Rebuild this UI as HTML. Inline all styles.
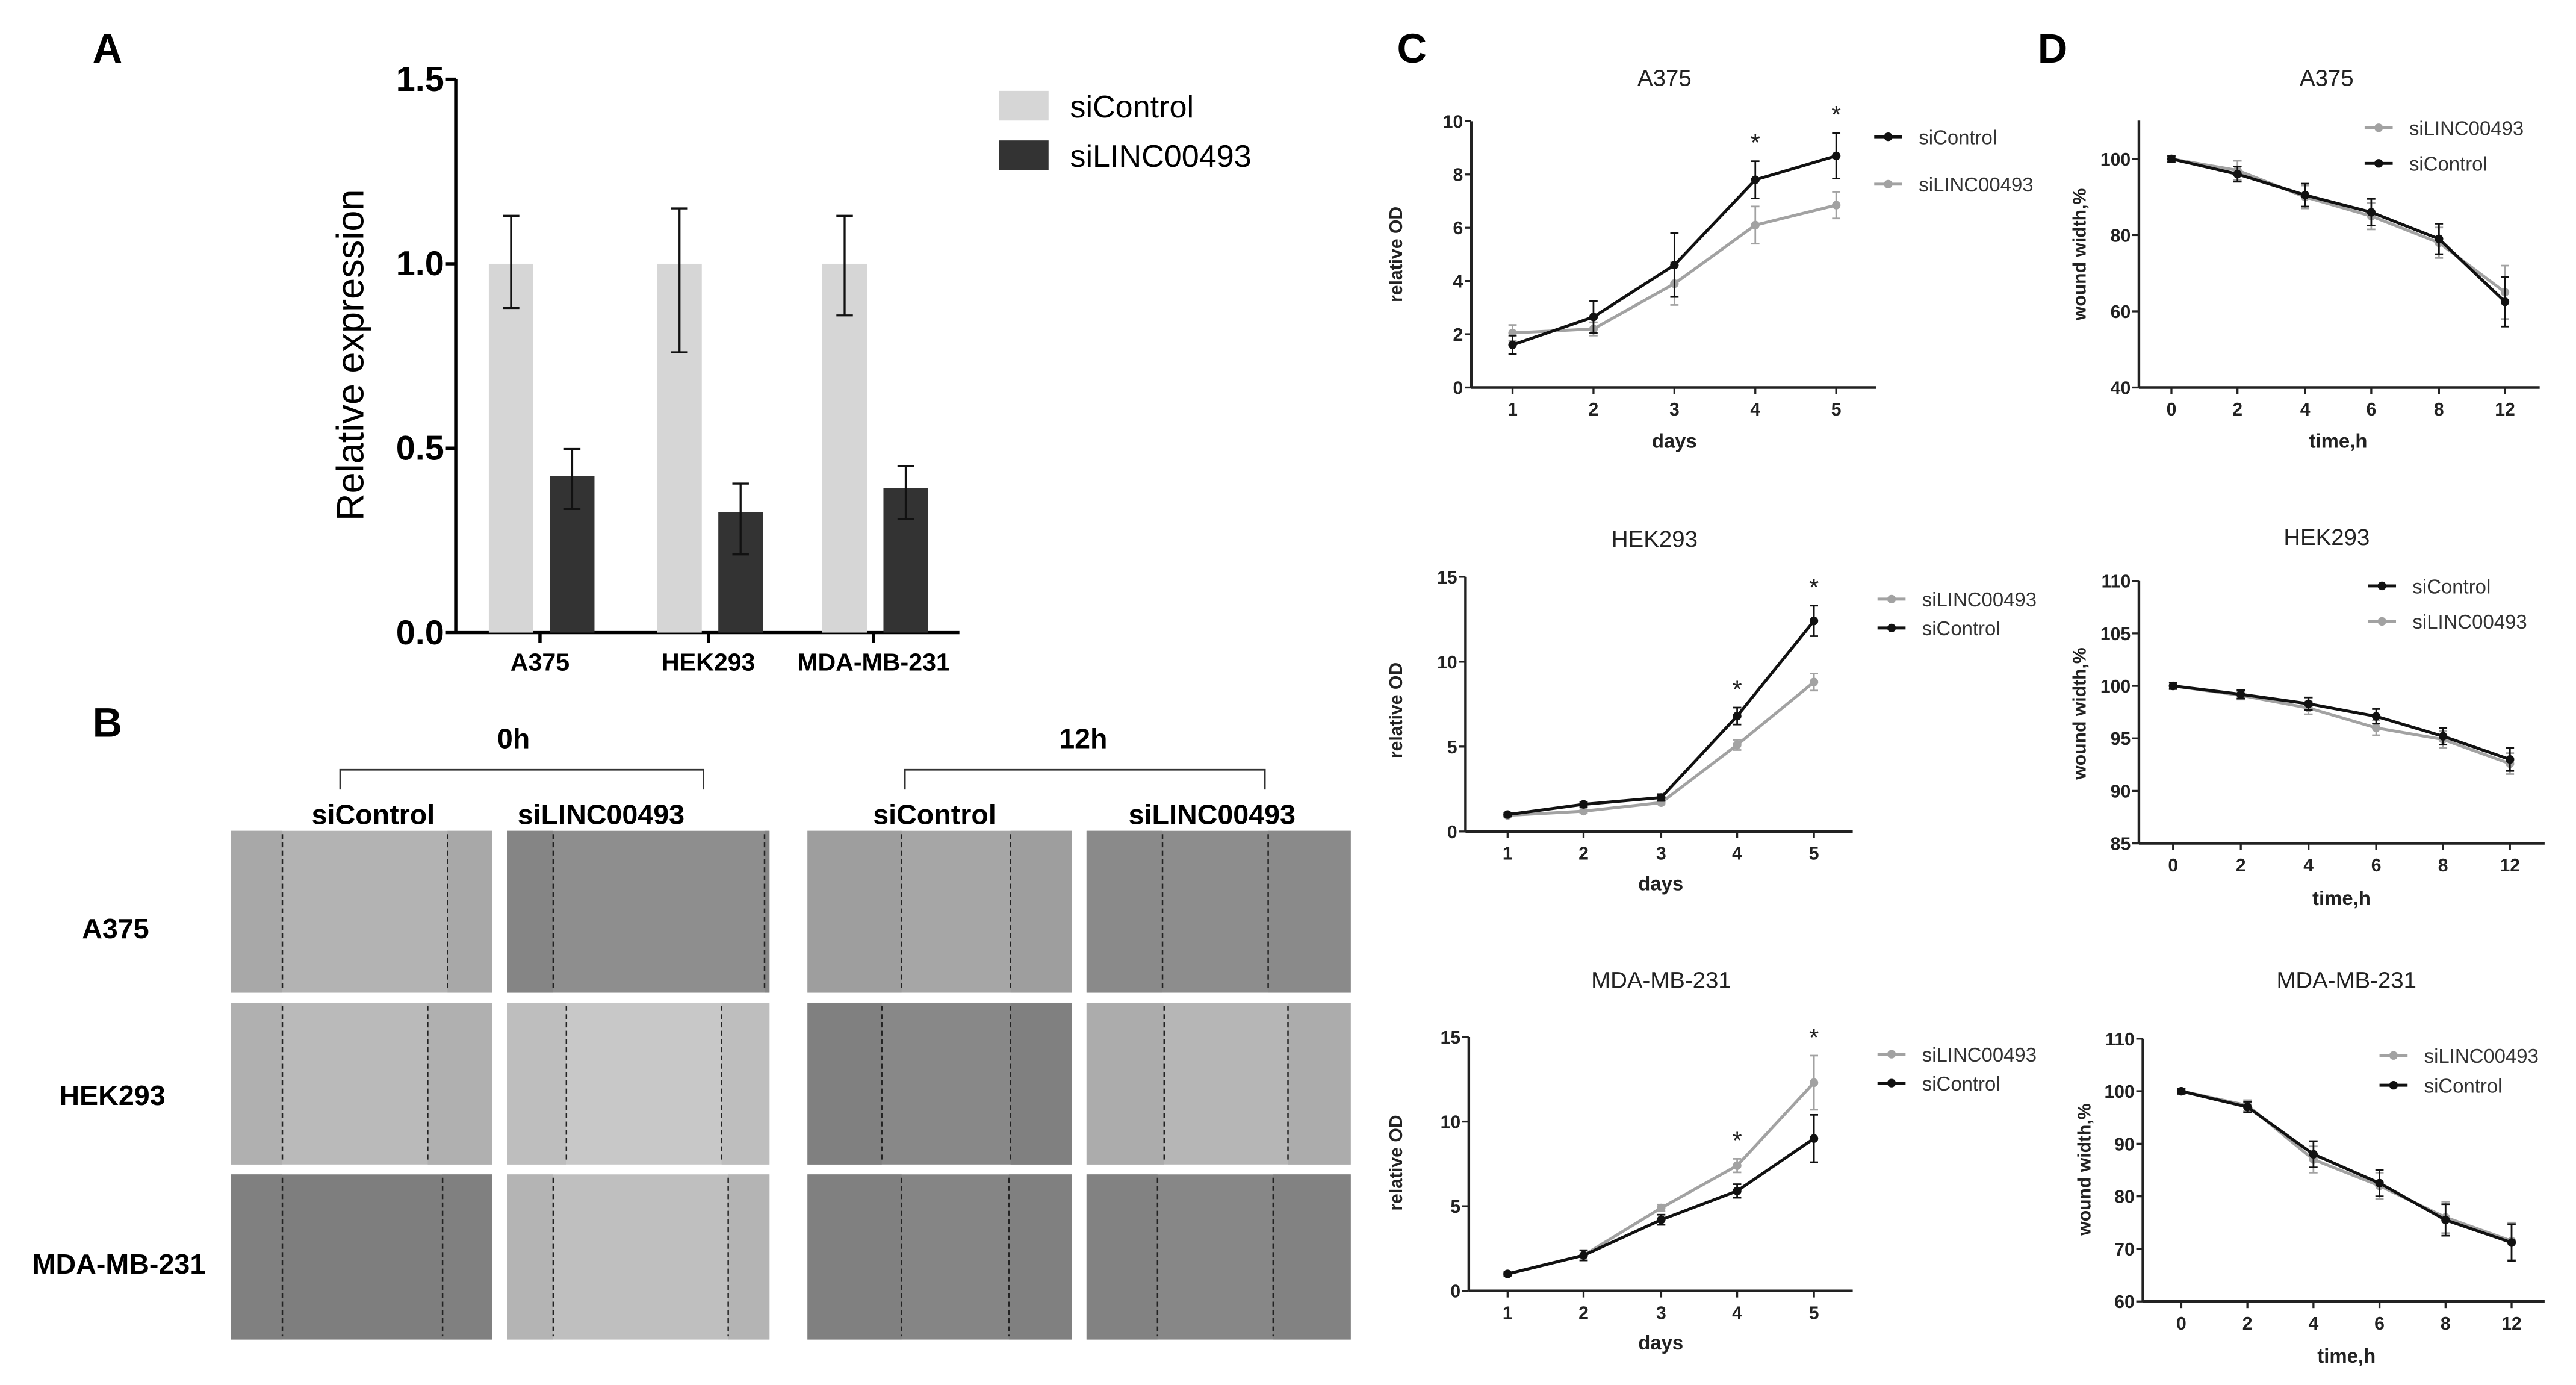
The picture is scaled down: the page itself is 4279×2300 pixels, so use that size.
<!DOCTYPE html>
<html><head><meta charset="utf-8"><style>
html,body{margin:0;padding:0;background:#fff;}
svg{display:block;}
text{font-family:"Liberation Sans",sans-serif;}
.n{font-family:"Liberation Sans Narrow","Liberation Sans",sans-serif;}
</style></head><body>
<svg id="fig" width="4279" height="2300" viewBox="0 0 1560 838.5" preserveAspectRatio="none" xmlns="http://www.w3.org/2000/svg">
<rect x="0" y="0" width="1560" height="838.5" fill="#fff"/>
<g id="panelA"></g>
<g id="panelB"></g>
<g id="panelC"></g>
<g id="panelD"></g>
</svg>
<script>
// ---- Panel A data ----
const aCategories = ["A375","HEK293","MDA-MB-231"];
const aControl = [1.0, 1.0, 1.0];
const aControlErrHi = [1.13, 1.15, 1.13];
const aControlErrLo = [0.88, 0.76, 0.86];
const aLinc = [0.424, 0.326, 0.392];
const aLincErrHi = [0.498, 0.404, 0.452];
const aLincErrLo = [0.335, 0.212, 0.308];
const aTicks = ["0.0","0.5","1.0","1.5"];
// ---- Panel C data (relative OD by day) ----
const cDays = ["1","2","3","4","5"];
const cA375Ctrl = [1.6, 2.65, 4.6, 7.8, 8.7];
const cA375CtrlErr = [0.35, 0.6, 1.2, 0.7, 0.85];
const cA375Linc = [2.05, 2.2, 3.9, 6.1, 6.85];
const cA375LincErr = [0.3, 0.25, 0.8, 0.7, 0.5];
const cHEKCtrl = [1.0, 1.6, 2.0, 6.8, 12.4];
const cHEKCtrlErr = [0.1, 0.15, 0.2, 0.5, 0.9];
const cHEKLinc = [0.95, 1.2, 1.7, 5.1, 8.8];
const cHEKLincErr = [0.1, 0.1, 0.1, 0.3, 0.5];
const cMDACtrl = [1.0, 2.1, 4.2, 5.9, 9.0];
const cMDACtrlErr = [0.1, 0.3, 0.3, 0.4, 1.4];
const cMDALinc = [1.0, 2.1, 4.9, 7.4, 12.3];
const cMDALincErr = [0.1, 0.3, 0.2, 0.4, 1.6];
// ---- Panel D data (wound width %) ----
const dTimes = ["0","2","4","6","8","12"];
const dA375Ctrl = [100, 96, 90.5, 86, 79, 62.5];
const dA375CtrlErr = [0.8, 2.0, 3.0, 3.5, 4.0, 6.5];
const dA375Linc = [100, 97, 90, 85, 78, 65];
const dA375LincErr = [0.8, 2.5, 3.0, 3.5, 4.0, 7.0];
const dHEKCtrl = [100, 99.2, 98.3, 97.1, 95.2, 93.0];
const dHEKCtrlErr = [0.3, 0.4, 0.6, 0.7, 0.8, 1.1];
const dHEKLinc = [100, 99.1, 97.9, 96.0, 94.9, 92.6];
const dHEKLincErr = [0.3, 0.4, 0.6, 0.7, 0.8, 1.0];
const dMDACtrl = [100, 97, 88, 82.5, 75.5, 71.2];
const dMDACtrlErr = [0.5, 1.0, 2.5, 2.5, 3.0, 3.5];
const dMDALinc = [100, 97.3, 87, 82, 76, 71.5];
const dMDALincErr = [0.5, 1.0, 2.5, 2.5, 3.0, 3.5];

const NS="http://www.w3.org/2000/svg";
function el(parent, tag, attrs, txt){
  const e=document.createElementNS(NS,tag);
  for(const k in attrs) e.setAttribute(k, attrs[k]);
  if(txt!==undefined) e.textContent=txt;
  parent.appendChild(e); return e;
}

// ================= Panel A =================
(function(){
  const g=document.getElementById('panelA');
  const x0=276, yBase=383, yTop=48, ymax=1.5;
  const y=v=>yBase-(v/ymax)*(yBase-yTop);
  const catX=[327,429,529];
  let t=el(g,'text',{x:56,y:38,'font-size':25,'font-weight':'bold'},'A');
   
  let ax=el(g,'line',{x1:x0,y1:yTop,x2:x0,y2:yBase,stroke:'#000','stroke-width':2});
   
  let xa=el(g,'line',{x1:x0,y1:yBase,x2:581,y2:yBase,stroke:'#000','stroke-width':2});
   
  aTicks.forEach((lab,i)=>{
    const v=parseFloat(lab);
    el(g,'line',{x1:x0-6,y1:y(v),x2:x0,y2:y(v),stroke:'#000','stroke-width':2});
    const tt=el(g,'text',{x:x0-7,y:y(v)+7,'font-size':21,'font-weight':'bold','text-anchor':'end',class:'n'},lab);
     
  });
  const yt=el(g,'text',{x:0,y:0,'font-size':23,'text-anchor':'middle',transform:'translate(220,215) rotate(-90)'},'Relative expression');
   
  aCategories.forEach((c,i)=>{
    const cx=catX[i];
    el(g,'line',{x1:cx,y1:yBase,x2:cx,y2:yBase+6,stroke:'#000','stroke-width':2});
    const lt=el(g,'text',{x:cx,y:yBase+23,'font-size':15,'font-weight':'bold','text-anchor':'middle',class:'n'},c);
     
    const b1=el(g,'rect',{x:cx-31,y:y(aControl[i]),width:27,height:yBase-y(aControl[i]),fill:'#d6d6d6'});
     
    const b2=el(g,'rect',{x:cx+6,y:y(aLinc[i]),width:27,height:yBase-y(aLinc[i]),fill:'#333'});
     
    [[cx-17.5,aControlErrHi[i],aControlErrLo[i]],[cx+19.5,aLincErrHi[i],aLincErrLo[i]]].forEach(e=>{
      el(g,'line',{x1:e[0],y1:y(e[1]),x2:e[0],y2:y(e[2]),stroke:'#111','stroke-width':1.2});
      el(g,'line',{x1:e[0]-5,y1:y(e[1]),x2:e[0]+5,y2:y(e[1]),stroke:'#111','stroke-width':1.2});
      el(g,'line',{x1:e[0]-5,y1:y(e[2]),x2:e[0]+5,y2:y(e[2]),stroke:'#111','stroke-width':1.2});
    });
  });
  const l1=el(g,'rect',{x:605,y:55,width:30,height:18,fill:'#d6d6d6'});
   
  const l2=el(g,'rect',{x:605,y:85,width:30,height:18,fill:'#333'});
   
  const lt1=el(g,'text',{x:648,y:71,'font-size':19,class:'n'},'siControl');
   
  const lt2=el(g,'text',{x:648,y:101,'font-size':19,class:'n'},'siLINC00493');
   
})();

// ================= Panel B =================
(function(){
  const g=document.getElementById('panelB');
  const t=el(g,'text',{x:56,y:446,'font-size':25,'font-weight':'bold'},'B');
   
  const hdr=[['0h',311,206,426],['12h',656,548,766]];
  hdr.forEach(h=>{
    const ht=el(g,'text',{x:h[1],y:453,'font-size':17,'font-weight':'bold','text-anchor':'middle'},h[0]);
     
    const br=el(g,'path',{d:`M${h[2]},478 V466 H${h[3]} V478`,fill:'none',stroke:'#333','stroke-width':1});
     
  });
  const colLabels=[['siControl',226],['siLINC00493',364],['siControl',566],['siLINC00493',734]];
  colLabels.forEach(c=>{
    const ct=el(g,'text',{x:c[1],y:499,'font-size':17,'font-weight':'bold','text-anchor':'middle'},c[0]);
     
  });
  const rowLabels=[['A375',70,568],['HEK293',68,669],['MDA-MB-231',72,771]];
  rowLabels.forEach(r=>{
    const rt=el(g,'text',{x:r[1],y:r[2],'font-size':17,'font-weight':'bold','text-anchor':'middle'},r[0]);
     
  });
  const cols=[[140,298],[307,466],[489,649],[658,818]];
  const rows=[[503,601],[607,705],[711,811]];
  const fills=[['#b3b3b3','#8e8e8e','#a6a6a6','#8d8d8d'],['#bababa','#c8c8c8','#888888','#b6b6b6'],['#7e7e7e','#bfbfbf','#858585','#878787']];
  const edgeFills=[['#a8a8a8','#858585','#9e9e9e','#8a8a8a'],['#b0b0b0','#bebebe','#808080','#acacac'],['#808080','#b4b4b4','#808080','#828282']];
  const dashes=[[[171,271],[335,463],[546,612],[704,768]],[[171,259],[343,437],[534,612],[705,780]],[[171,268],[335,441],[546,611],[701,771]]];
  rows.forEach((r,ri)=>cols.forEach((c,ci)=>{
    const im=el(g,'rect',{x:c[0],y:r[0],width:c[1]-c[0],height:r[1]-r[0],fill:fills[ri][ci]});
     
    const d=dashes[ri][ci];
    el(g,'rect',{x:c[0],y:r[0],width:d[0]-c[0],height:r[1]-r[0],fill:edgeFills[ri][ci]});
    el(g,'rect',{x:d[1],y:r[0],width:c[1]-d[1],height:r[1]-r[0],fill:edgeFills[ri][ci]});
    d.forEach(xx=>{
      const dl=el(g,'line',{x1:xx,y1:r[0]+2,x2:xx,y2:r[1]-2,stroke:'#222','stroke-width':0.9,'stroke-dasharray':'3,2'});
       
    });
  }));
})();

// ================= Line charts =================
function lineChart(g, cfg){
  const {axX, axXEnd, y0, yTopPx, vmin, vmax, ticks, tickLabels, xs, cats, series, title, titleX, titleY, ytitle, ytitleX, ytitleY, xtitle, xtitleY, legend, stars, axTopPx} = cfg;
  const y=v=>y0-(v-vmin)/(vmax-vmin)*(y0-yTopPx);
  el(g,'line',{x1:axX,y1:axTopPx!==undefined?axTopPx:yTopPx,x2:axX,y2:y0,stroke:'#222','stroke-width':1.6});
  el(g,'line',{x1:axX,y1:y0,x2:axXEnd,y2:y0,stroke:'#222','stroke-width':1.6});
  const tt=el(g,'text',{x:titleX,y:titleY,'font-size':14,'text-anchor':'middle',class:'n',fill:'#222'},title);
   
  ticks.forEach((v,i)=>{
    el(g,'line',{x1:axX-4,y1:y(v),x2:axX,y2:y(v),stroke:'#222','stroke-width':1.2});
    const lt=el(g,'text',{x:axX-5,y:y(v)+4,'font-size':11,'font-weight':'bold','text-anchor':'end',class:'n',fill:'#222'},tickLabels[i]);
     
  });
  cats.forEach((c,i)=>{
    el(g,'line',{x1:xs[i],y1:y0,x2:xs[i],y2:y0+4,stroke:'#222','stroke-width':1.2});
    const lt=el(g,'text',{x:xs[i],y:y0+17,'font-size':11,'font-weight':'bold','text-anchor':'middle',class:'n',fill:'#222'},c);
     
  });
  const yt=el(g,'text',{x:0,y:0,'font-size':11,'font-weight':'bold','text-anchor':'middle',fill:'#222',transform:`translate(${ytitleX},${ytitleY}) rotate(-90)`},ytitle);
   
  const xt=el(g,'text',{x:(xs[0]+xs[xs.length-1])/2,y:xtitleY,'font-size':12,'font-weight':'bold','text-anchor':'middle',class:'n',fill:'#222'},xtitle);
   
  series.forEach(s=>{
    const pts=s.vals.map((v,i)=>xs[i]+','+y(v)).join(' ');
    const pl=el(g,'polyline',{points:pts,fill:'none',stroke:s.color,'stroke-width':1.8});
     
    s.vals.forEach((v,i)=>{
      const e=s.err[i];
      el(g,'line',{x1:xs[i],y1:y(v+e),x2:xs[i],y2:y(v-e),stroke:s.color,'stroke-width':1});
      el(g,'line',{x1:xs[i]-2.5,y1:y(v+e),x2:xs[i]+2.5,y2:y(v+e),stroke:s.color,'stroke-width':1});
      el(g,'line',{x1:xs[i]-2.5,y1:y(v-e),x2:xs[i]+2.5,y2:y(v-e),stroke:s.color,'stroke-width':1});
      const p=el(g,'circle',{cx:xs[i],cy:y(v),r:2.6,fill:s.color});
       
    });
  });
  (stars||[]).forEach(st=>{
    const s=el(g,'text',{x:xs[st.i],y:y(st.v)-3,'font-size':15,'text-anchor':'middle',fill:'#222'},'*');
     
  });
  legend.items.forEach((it,k)=>{
    const ly=legend.y[k];
    el(g,'line',{x1:legend.x,y1:ly,x2:legend.x+17,y2:ly,stroke:it.color,'stroke-width':1.8});
    el(g,'circle',{cx:legend.x+8.5,cy:ly,r:2.6,fill:it.color});
    const lt=el(g,'text',{x:legend.x+27,y:ly+4.5,'font-size':12,class:'n',fill:'#333'},it.label);
     
  });
}
const BLK='#111', GRY='#a2a2a2';
(function(){
  const g=document.getElementById('panelC');
  const t=el(g,'text',{x:846,y:38,'font-size':25,'font-weight':'bold'},'C');
   
  const gA=el(g,'g',{});  
  lineChart(gA,{axX:891,axXEnd:1136,y0:234.6,yTopPx:73.4,vmin:0,vmax:10,ticks:[0,2,4,6,8,10],tickLabels:["0","2","4","6","8","10"],
    xs:[916,965,1014,1063,1112],cats:cDays,
    series:[{key:'silinc00493',vals:cA375Linc,err:cA375LincErr,color:GRY},{key:'sicontrol',vals:cA375Ctrl,err:cA375CtrlErr,color:BLK}],
    title:'A375',titleX:1008,titleY:52,ytitle:'relative OD',ytitleX:849,ytitleY:154,xtitle:'days',xtitleY:271,
    legend:{x:1135,y:[82.8,111.5],items:[{label:'siControl',color:BLK},{label:'siLINC00493',color:GRY}]},
    stars:[{i:3,v:8.7},{i:4,v:9.75}]});
  const gH=el(g,'g',{});  
  lineChart(gH,{axX:887.5,axXEnd:1122,y0:503.4,yTopPx:349.2,vmin:0,vmax:15,ticks:[0,5,10,15],tickLabels:["0","5","10","15"],
    xs:[913,959,1006,1052,1098.5],cats:cDays,
    series:[{key:'silinc00493',vals:cHEKLinc,err:cHEKLincErr,color:GRY},{key:'sicontrol',vals:cHEKCtrl,err:cHEKCtrlErr,color:BLK}],
    title:'HEK293',titleX:1002,titleY:331,ytitle:'relative OD',ytitleX:849,ytitleY:430,xtitle:'days',xtitleY:539,
    legend:{x:1137,y:[362.7,380.2],items:[{label:'siLINC00493',color:GRY},{label:'siControl',color:BLK}]},
    stars:[{i:3,v:7.6},{i:4,v:13.6}]});
  const gM=el(g,'g',{});  
  lineChart(gM,{axX:889.5,axXEnd:1122,y0:781.5,yTopPx:627.8,vmin:0,vmax:15,ticks:[0,5,10,15],tickLabels:["0","5","10","15"],
    xs:[913,959,1006,1052,1098.5],cats:cDays,
    series:[{key:'silinc00493',vals:cMDALinc,err:cMDALincErr,color:GRY},{key:'sicontrol',vals:cMDACtrl,err:cMDACtrlErr,color:BLK}],
    title:'MDA-MB-231',titleX:1006,titleY:598,ytitle:'relative OD',ytitleX:849,ytitleY:704,xtitle:'days',xtitleY:817,
    legend:{x:1137,y:[638.2,655.7],items:[{label:'siLINC00493',color:GRY},{label:'siControl',color:BLK}]},
    stars:[{i:3,v:8.1},{i:4,v:14.2}]});
})();
(function(){
  const g=document.getElementById('panelD');
  const t=el(g,'text',{x:1234,y:38,'font-size':25,'font-weight':'bold'},'D');
   
  const gA=el(g,'g',{});  
  lineChart(gA,{axX:1295.3,axXEnd:1538,y0:234.6,yTopPx:96.2,vmin:40,vmax:100,axTopPx:73,ticks:[40,60,80,100],tickLabels:["40","60","80","100"],
    xs:[1315,1355,1396,1436,1477,1517],cats:dTimes,
    series:[{key:'silinc00493',vals:dA375Linc,err:dA375LincErr,color:GRY},{key:'sicontrol',vals:dA375Ctrl,err:dA375CtrlErr,color:BLK}],
    title:'A375',titleX:1409,titleY:52,ytitle:'wound width,%',ytitleX:1263,ytitleY:154,xtitle:'time,h',xtitleY:271,
    legend:{x:1432,y:[77.4,98.9],items:[{label:'siLINC00493',color:GRY},{label:'siControl',color:BLK}]}});
  const gH=el(g,'g',{});  
  lineChart(gH,{axX:1295.3,axXEnd:1541,y0:510.6,yTopPx:351.7,vmin:85,vmax:110,ticks:[85,90,95,100,105,110],tickLabels:["85","90","95","100","105","110"],
    xs:[1316,1357,1398,1439,1479.5,1520],cats:dTimes,
    series:[{key:'silinc00493',vals:dHEKLinc,err:dHEKLincErr,color:GRY},{key:'sicontrol',vals:dHEKCtrl,err:dHEKCtrlErr,color:BLK}],
    title:'HEK293',titleX:1409,titleY:330,ytitle:'wound width,%',ytitleX:1263,ytitleY:432,xtitle:'time,h',xtitleY:548,
    legend:{x:1434,y:[354.7,376.2],items:[{label:'siControl',color:BLK},{label:'siLINC00493',color:GRY}]}});
  const gM=el(g,'g',{});  
  lineChart(gM,{axX:1297.7,axXEnd:1541,y0:787.9,yTopPx:628.8,vmin:60,vmax:110,ticks:[60,70,80,90,100,110],tickLabels:["60","70","80","90","100","110"],
    xs:[1321,1361,1401,1441,1481,1521],cats:dTimes,
    series:[{key:'silinc00493',vals:dMDALinc,err:dMDALincErr,color:GRY},{key:'sicontrol',vals:dMDACtrl,err:dMDACtrlErr,color:BLK}],
    title:'MDA-MB-231',titleX:1421,titleY:598,ytitle:'wound width,%',ytitleX:1266,ytitleY:708,xtitle:'time,h',xtitleY:825,
    legend:{x:1441,y:[639,657],items:[{label:'siLINC00493',color:GRY},{label:'siControl',color:BLK}]}});
})();
</script>
</body></html>
